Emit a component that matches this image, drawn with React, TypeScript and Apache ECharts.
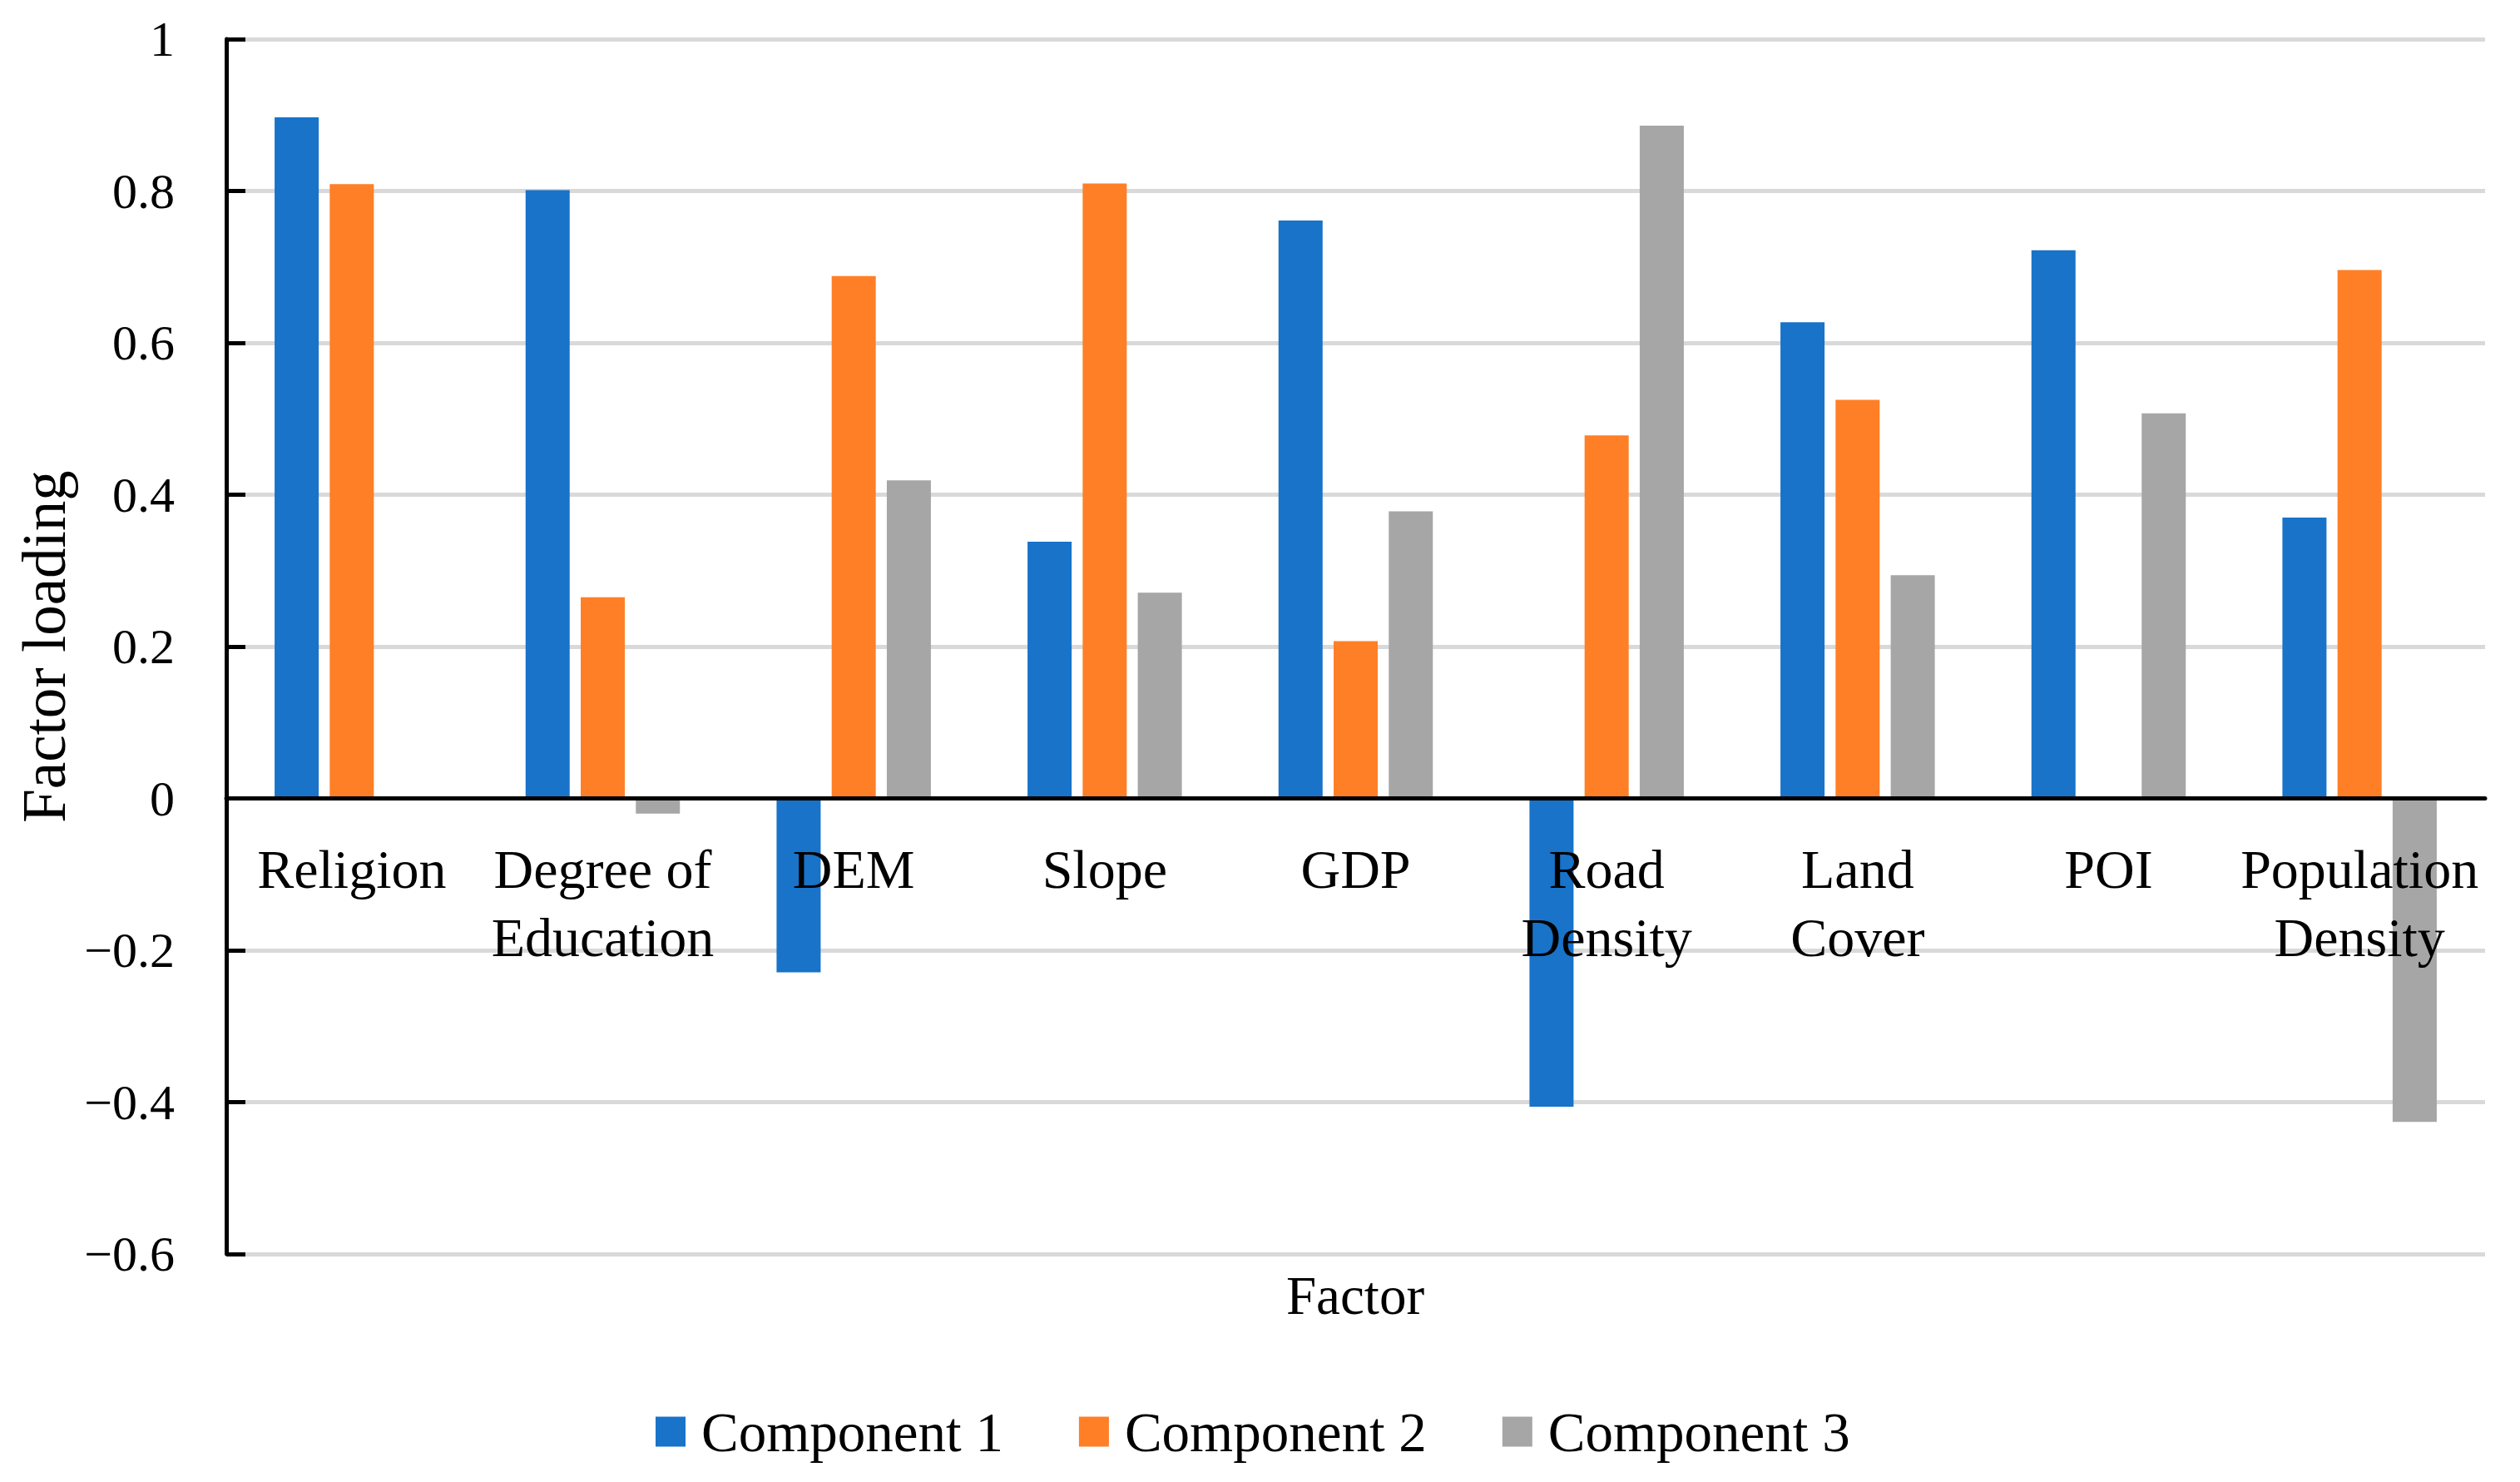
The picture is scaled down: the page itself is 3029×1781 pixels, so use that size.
import React, { useEffect, useRef } from "react";
import * as echarts from "echarts";

const categories = [
  "Religion",
  "Degree of\nEducation",
  "DEM",
  "Slope",
  "GDP",
  "Road\nDensity",
  "Land\nCover",
  "POI",
  "Population\nDensity",
];
const seriesNames = ["Component 1", "Component 2", "Component 3"];
const component1 = [0.897, 0.801, -0.229, 0.338, 0.761, -0.406, 0.627, 0.722, 0.37];
const component2 = [0.809, 0.265, 0.688, 0.81, 0.207, 0.478, 0.525, 0, 0.696];
const component3 = [0, -0.02, 0.419, 0.271, 0.378, 0.886, 0.294, 0.507, -0.426];
const colors = ["#1873c9", "#ff7f27", "#a6a6a6"];
const yMin = -0.6;
const yMax = 1;
const yStep = 0.2;

const FONT = "'Liberation Serif', 'Times New Roman', serif";

const GRID_TOP = 47;
const GRID_BOTTOM = 274;
const CHART_H = 1781;

export default function App() {
  const ref = useRef<HTMLDivElement>(null);
  useEffect(() => {
    document.body.style.margin = "0";
    const chart = echarts.init(ref.current as HTMLDivElement, null, { renderer: "svg" });
    const data = [component1, component2, component3];
    const gridH = CHART_H - GRID_TOP - GRID_BOTTOM;
    // shift x axis (line + labels) from the grid bottom up to the value 0
    const zeroOffset = -gridH * ((0 - yMin) / (yMax - yMin));
    chart.setOption({
      animation: false,
      backgroundColor: "#ffffff",
      textStyle: { fontFamily: FONT },
      grid: { left: 272, right: 42, top: GRID_TOP, bottom: GRID_BOTTOM, containLabel: false },
      legend: {
        data: seriesNames,
        left: 783,
        top: 1682,
        icon: "rect",
        itemWidth: 36,
        itemHeight: 36,
        itemGap: 91,
        textStyle: { fontSize: 67, color: "#000", fontFamily: FONT, lineHeight: 66, padding: [0, 0, 0, 14] },
      },
      xAxis: {
        type: "category",
        data: categories,
        offset: zeroOffset,
        z: 10,
        axisTick: { show: false },
        axisLine: { show: true, onZero: false, lineStyle: { color: "#000", width: 5 } },
        axisLabel: {
          interval: 0,
          fontSize: 66,
          lineHeight: 82,
          margin: 44,
          color: "#000",
          fontFamily: FONT,
        },
        splitLine: { show: false },
      },
      yAxis: {
        type: "value",
        min: yMin,
        max: yMax,
        interval: yStep,
        name: "Factor loading",
        nameLocation: "middle",
        nameGap: 166,
        nameTextStyle: { fontSize: 73, color: "#000", fontFamily: FONT },
        axisLine: { show: true, lineStyle: { color: "#000", width: 5 } },
        axisTick: { show: true, inside: true, length: 23, lineStyle: { color: "#000", width: 5 } },
        axisLabel: {
          fontSize: 60,
          margin: 62,
          color: "#000",
          fontFamily: FONT,
          formatter: (v: number) => {
            const r = Math.round(v * 10) / 10;
            if (r === 0) return "0";
            if (r === 1) return "1";
            return (r < 0 ? "\u2212" : "") + Math.abs(r).toFixed(1);
          },
        },
        splitLine: { show: true, lineStyle: { color: "#d9d9d9", width: 5 } },
      },
      graphic: [
        {
          type: "text",
          x: 1629,
          y: 1557,
          style: {
            text: "Factor",
            fontSize: 65,
            fontFamily: FONT,
            fill: "#000",
            textAlign: "center",
            textVerticalAlign: "middle",
            align: "center",
            verticalAlign: "middle",
          },
        },
      ],
      series: seriesNames.map((name, i) => ({
        name,
        type: "bar",
        data: data[i],
        barWidth: 53,
        barGap: "25%",
        itemStyle: { color: colors[i] },
      })),
    });
    return () => chart.dispose();
  }, []);
  return <div ref={ref} style={{ width: 3029, height: 1781 }} />;
}
